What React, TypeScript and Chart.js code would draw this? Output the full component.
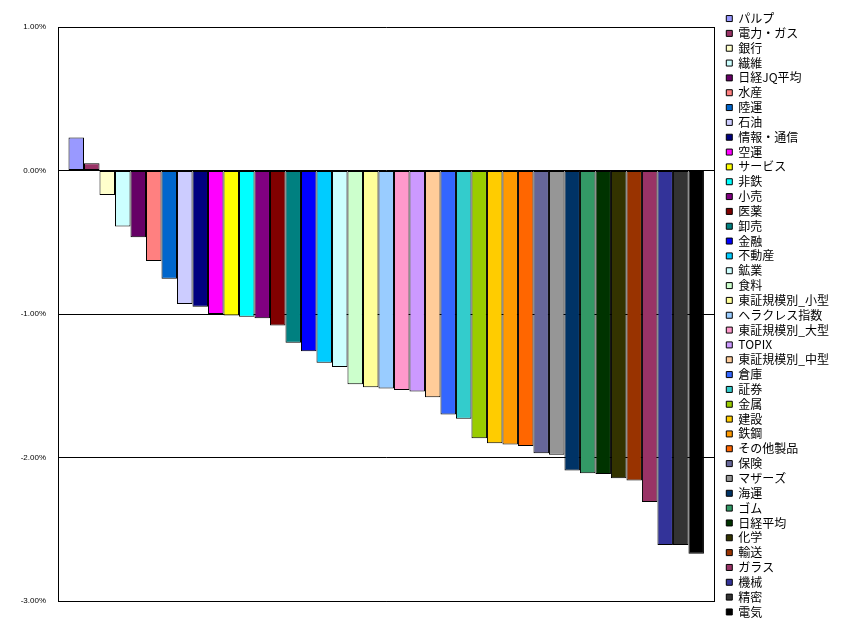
import React, { useEffect, useRef } from "react";
import { Chart, registerables } from "chart.js";

Chart.register(...registerables);

const categories: string[] = [
  "パルプ", "電力・ガス", "銀行", "繊維", "日経JQ平均", "水産", "陸運", "石油", "情報・通信", "空運",
  "サービス", "非鉄", "小売", "医薬", "卸売", "金融", "不動産", "鉱業", "食料", "東証規模別_小型",
  "ヘラクレス指数", "東証規模別_大型", "TOPIX", "東証規模別_中型", "倉庫", "証券", "金属", "建設", "鉄鋼", "その他製品",
  "保険", "マザーズ", "海運", "ゴム", "日経平均", "化学", "輸送", "ガラス", "機械", "精密",
  "電気",
];

const values: number[] = [
  0.23, 0.05, -0.17, -0.39, -0.465, -0.63, -0.755, -0.93, -0.95, -1.0,
  -1.01, -1.02, -1.03, -1.08, -1.2, -1.26, -1.34, -1.37, -1.49, -1.51,
  -1.52, -1.53, -1.54, -1.58, -1.7, -1.73, -1.865, -1.9, -1.91, -1.92,
  -1.97, -1.98, -2.09, -2.11, -2.115, -2.145, -2.16, -2.31, -2.61, -2.61,
  -2.67,
];

const colors: string[] = [
  "#9999FF", "#993366", "#FFFFCC", "#CCFFFF", "#660066", "#FF8080", "#0066CC", "#CCCCFF", "#000080", "#FF00FF",
  "#FFFF00", "#00FFFF", "#800080", "#800000", "#008080", "#0000FF", "#00CCFF", "#CCFFFF", "#CCFFCC", "#FFFF99",
  "#99CCFF", "#FF99CC", "#CC99FF", "#FFCC99", "#3366FF", "#33CCCC", "#99CC00", "#FFCC00", "#FF9900", "#FF6600",
  "#666699", "#969696", "#003366", "#339966", "#003300", "#333300", "#993300", "#993366", "#333399", "#333333",
  "#000000",
];

const yTicks = { min: -3, max: 1, step: 1 };

export default function App() {
  const ref = useRef<HTMLCanvasElement | null>(null);

  useEffect(() => {
    if (!ref.current) return;
    const datasets = categories.map((name, i) => ({
      label: name,
      data: [values[i]],
      xAxisID: "x",
      yAxisID: "y",
      backgroundColor: colors[i],
      borderColor: "#000000",
      borderWidth: 1,
      borderSkipped: false as const,
      categoryPercentage: 0.968,
      barPercentage: 1,
    }));
    const chart = new Chart(ref.current, {
      type: "bar",
      data: { labels: [""], datasets },
      options: {
        responsive: false,
        animation: false,
        devicePixelRatio: 1,
        layout: { padding: { top: 0, left: 0, right: 8, bottom: 13.5 } },
        plugins: {
          legend: {
            position: "right",
            align: "center",
            labels: {
              boxWidth: 6,
              boxHeight: 6,
              padding: 2.835,
              color: "#000000",
              font: { family: "'Noto Sans CJK JP', sans-serif", size: 12 },
            },
          },
          tooltip: { enabled: false },
          title: { display: false },
        },
        scales: {
          x: {
            type: "category",
            position: "bottom",
            ticks: { display: false },
            grid: { display: true, color: "#000000", lineWidth: 1, drawTicks: false, offset: true },
            border: { display: true, color: "#000000", width: 1 },
            afterFit: (s: any) => { s.height = 29.5; },
          },
          xTop: {
            type: "linear",
            position: "top",
            display: true,
            ticks: { display: false },
            grid: { display: false, drawTicks: false },
            border: { display: false },
            afterFit: (s: any) => { s.height = 27; },
          },
          yRight: {
            type: "linear",
            position: "right",
            display: true,
            ticks: { display: false },
            grid: { display: false, drawTicks: false },
            border: { display: false },
            afterFit: (s: any) => { s.width = 9; },
          },
          y: {
            type: "linear",
            position: "left",
            min: yTicks.min,
            max: yTicks.max,
            ticks: {
              stepSize: yTicks.step,
              padding: 12,
              color: "#000000",
              font: { family: "'Liberation Sans', Arial, sans-serif", size: 8 },
              callback: (v: any) => Number(v).toFixed(2) + "%",
            },
            grid: { display: true, color: "#000000", lineWidth: 1, drawTicks: false },
            border: { display: true, color: "#000000", width: 1 },
            afterFit: (s: any) => { s.width = 58; },
          },
        },
      } as any,
    });
    return () => chart.destroy();
  }, []);

  return (
    <div style={{ position: "absolute", left: 0, top: 0, width: 847, height: 644, background: "#ffffff" }}>
      <canvas ref={ref} width={847} height={644} style={{ display: "block", width: 847, height: 644 }} />
    </div>
  );
}
